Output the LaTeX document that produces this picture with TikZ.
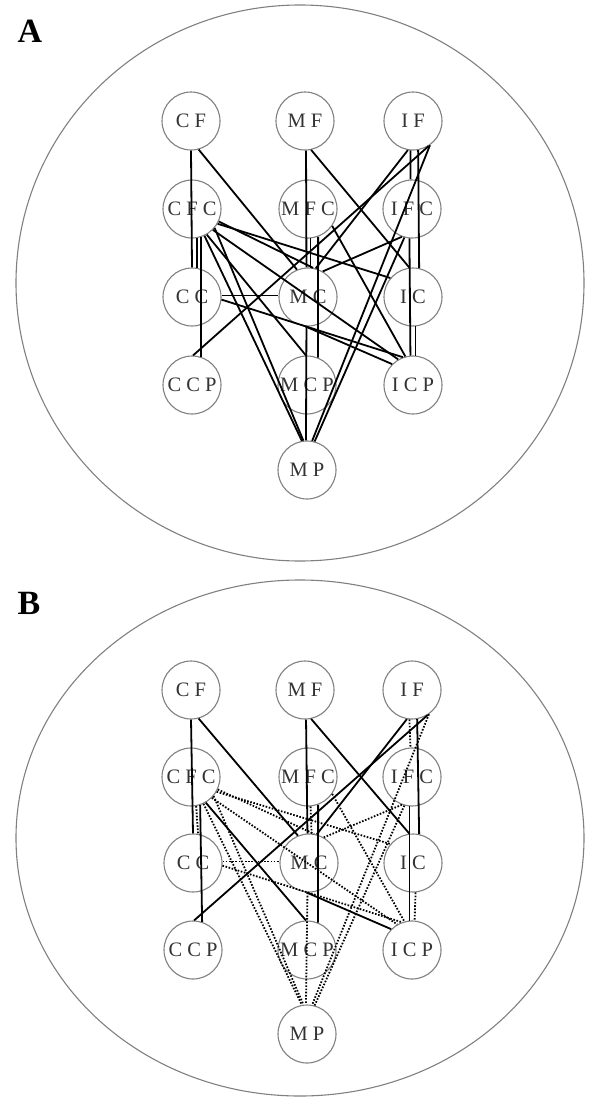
\documentclass[tikz,border=0pt]{standalone}
\usepackage{fontspec}
\setmainfont{Liberation Serif}
\begin{document}
\begin{tikzpicture}[x=1pt,y=-1pt,
  nd/.style={circle,draw=black!50,line width=1.1pt,minimum size=58pt,inner sep=0pt,
    font=\fontsize{20.5}{20.5}\selectfont,text=black!80},
  sol/.style={line width=1.8pt,black},
  dot/.style={line width=1.8pt,black,dash pattern=on 1.6pt off 1.6pt},
  oval/.style={draw=black!50,line width=1.1pt},
  lab/.style={font=\fontsize{34}{34}\selectfont\bfseries,inner sep=0pt}]
\useasboundingbox (0,0) rectangle (596,1103);
% ---------- panel A ----------
\draw[oval] (300,283) ellipse [x radius=284pt, y radius=278pt];
\node[lab] (labA) at (30,31) {A};
\node[nd] (aCF)  at (191,121) {C F};
\node[nd] (aMF)  at (305,121) {M F};
\node[nd] (aIF)  at (413,121) {I F};
\node[nd] (aCFC) at (192,209) {C F C};
\node[nd] (aMFC) at (308,209) {M F C};
\node[nd] (aIFC) at (412,209) {I F C};
\node[nd] (aCC)  at (192,297) {C C};
\node[nd] (aMC)  at (308,297) {M C};
\node[nd] (aIC)  at (413,297) {I C};
\node[nd] (aCCP) at (192,385) {C C P};
\node[nd] (aMCP) at (307,385) {M C P};
\node[nd] (aICP) at (413,385) {I C P};
\node[nd] (aMP)  at (307,470) {M P};
% ---------- panel B ----------
\draw[oval] (300,838) ellipse [x radius=284pt, y radius=258pt];
\node[lab] (labB) at (29,603) {B};
\node[nd] (bCF)  at (191,690) {C F};
\node[nd] (bMF)  at (305,690) {M F};
\node[nd] (bIF)  at (412,690) {I F};
\node[nd] (bCFC) at (191,777) {C F C};
\node[nd] (bMFC) at (308,777) {M F C};
\node[nd] (bIFC) at (412,777) {I F C};
\node[nd] (bCC)  at (193,863) {C C};
\node[nd] (bMC)  at (309,863) {M C};
\node[nd] (bIC)  at (413,863) {I C};
\node[nd] (bCCP) at (193,950) {C C P};
\node[nd] (bMCP) at (307,950) {M C P};
\node[nd] (bICP) at (412,950) {I C P};
\node[nd] (bMP)  at (307,1034) {M P};
% ---------- edges ----------
\foreach \p/\d in {a/sol,b/dot}{
  % edges kept in both panels (solid)
  \draw[sol] (\p CF.-90)  -- (\p CC.90);
  \draw[sol] (\p CF.-75)  -- (\p MC.112);
  \draw[sol] (\p MF.-88)  -- (\p MC.93);
  \draw[sol] (\p MF.-78)  -- (\p IC.97);
  \draw[sol] (\p IF.-80)  -- (\p IC.78);
  \draw[sol] (\p IF.-100) -- (\p MC.75);
  \draw[sol] (\p IF.-58)  -- (\p CCP.88);
  \draw[sol] (\p CFC.-72) -- (\p CCP.72);
  \draw[sol] (\p CFC.-60) -- (\p MCP.92);
  \draw[sol] (\p MFC.-70) -- (\p MCP.68);
  \draw[sol] (\p IFC.-95) -- (\p ICP.95);
  \draw[sol] (\p MC.-95)  -- (\p ICP.135);
  % edges dotted in panel B
  \draw[\d] (\p IF.-95)  -- (\p IFC.93);
  \draw[\d] (\p CFC.-80) -- (\p CC.80);
  \draw[\d] (\p CFC.-65) -- (\p MP.100);
  \draw[\d] (\p CFC.-40) -- (\p MP.97);
  \draw[\d] (\p CFC.-25) -- (\p MC.80);
  \draw[\d] (\p CFC.-30) -- (\p IC.140);
  \draw[\d] (\p CFC.-45) -- (\p ICP.120);
  \draw[\d] (\p CC.3)    -- (\p MC.177);
  \draw[\d] (\p CC.-5)   -- (\p ICP.110);
  \draw[\d] (\p MFC.-85) -- (\p MC.85);
  \draw[\d] (\p MFC.-35) -- (\p ICP.105);
  \draw[\d] (\p IFC.-110) -- (\p MC.60);
  \draw[\d] (\p IFC.-105) -- (\p MP.75);
  \draw[\d] (\p IF.-55)  -- (\p MP.80);
  \draw[\d] (\p MC.-93)  -- (\p MP.92);
  \draw[\d] (\p IC.-85)  -- (\p ICP.85);
}
\end{tikzpicture}
\end{document}
